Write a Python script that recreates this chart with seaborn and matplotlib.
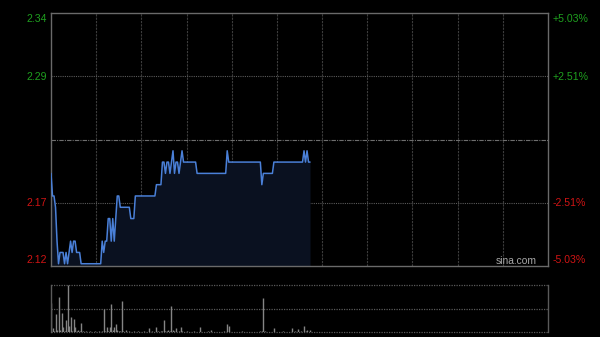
import matplotlib
matplotlib.use('Agg')
import matplotlib.pyplot as plt
import seaborn as sns
import pandas as pd

# ---- data ----
minutes = list(range(173))
prices = [
    2.20, 2.18, 2.18, 2.17, 2.14, 2.12, 2.13, 2.13, 2.13, 2.12,
    2.13, 2.12, 2.13, 2.14, 2.13, 2.14, 2.14, 2.13, 2.13, 2.13,
    2.12, 2.12, 2.12, 2.12, 2.12, 2.12, 2.12, 2.12, 2.12, 2.12,
    2.12, 2.12, 2.12, 2.12, 2.14, 2.13, 2.14, 2.14, 2.16, 2.16,
    2.14, 2.16, 2.14, 2.16, 2.18, 2.18, 2.17, 2.17, 2.17, 2.17,
    2.17, 2.17, 2.17, 2.16, 2.16, 2.16, 2.18, 2.18, 2.18, 2.18,
    2.18, 2.18, 2.18, 2.18, 2.18, 2.18, 2.18, 2.18, 2.18, 2.18,
    2.19, 2.19, 2.19, 2.19, 2.21, 2.21, 2.20, 2.21, 2.21, 2.20,
    2.21, 2.22, 2.20, 2.21, 2.21, 2.20, 2.21, 2.22, 2.21, 2.21,
    2.21, 2.21, 2.21, 2.21, 2.21, 2.21, 2.21, 2.20, 2.20, 2.20,
    2.20, 2.20, 2.20, 2.20, 2.20, 2.20, 2.20, 2.20, 2.20, 2.20,
    2.20, 2.20, 2.20, 2.20, 2.20, 2.20, 2.20, 2.22, 2.21, 2.21,
    2.21, 2.21, 2.21, 2.21, 2.21, 2.21, 2.21, 2.21, 2.21, 2.21,
    2.21, 2.21, 2.21, 2.21, 2.21, 2.21, 2.21, 2.21, 2.21, 2.21,
    2.19, 2.20, 2.20, 2.20, 2.20, 2.20, 2.20, 2.20, 2.21, 2.21,
    2.21, 2.21, 2.21, 2.21, 2.21, 2.21, 2.21, 2.21, 2.21, 2.21,
    2.21, 2.21, 2.21, 2.21, 2.21, 2.21, 2.21, 2.21, 2.22, 2.21,
    2.22, 2.21, 2.21,
]
volumes = [
    61, 9, 3, 38, 4, 75, 4, 40, 11, 3,
    26, 100, 13, 31, 3, 27, 11, 2, 4, 2,
    20, 2, 1, 2, 1, 1, 2, 1, 1, 2,
    1, 1, 2, 1, 3, 50, 3, 10, 3, 10,
    60, 4, 11, 18, 4, 3, 2, 67, 2, 1,
    4, 1, 2, 1, 1, 2, 1, 1, 2, 1,
    1, 1, 2, 1, 1, 8, 1, 2, 1, 1,
    10, 2, 1, 3, 2, 26, 3, 2, 4, 3,
    55, 4, 2, 8, 1, 2, 10, 2, 1, 1,
    2, 1, 1, 1, 1, 2, 1, 1, 1, 10,
    1, 1, 1, 1, 2, 1, 4, 1, 1, 1,
    1, 1, 1, 1, 1, 2, 1, 17, 13, 1,
    1, 1, 1, 1, 1, 1, 1, 2, 1, 1,
    1, 1, 1, 1, 1, 1, 1, 1, 1, 2,
    3, 72, 2, 1, 1, 1, 1, 1, 9, 1,
    1, 1, 1, 1, 2, 1, 1, 1, 1, 1,
    9, 1, 2, 1, 6, 1, 2, 1, 13, 2,
    4, 1, 4,
]
prev_close = 2.23
half_range = 0.112
session_minutes = 330
grid_minutes = [30, 60, 90, 120, 150, 180, 210, 240, 270, 300]
left_labels = ['2.34', '2.29', '2.17', '2.12']
right_labels = ['+5.03%', '+2.51%', '-2.51%', '-5.03%']
label_colors = ['#1fa01f', '#1fa01f', '#d01414', '#d01414']
vol_max = 100

sns.set_theme(style='dark')
plt.rcParams['font.family'] = ['Liberation Sans', 'DejaVu Sans']

W, H = 600, 337
fig = plt.figure(figsize=(6, 3.37), dpi=100, facecolor='black')
ax = fig.add_axes([51 / W, 71 / H, 497 / W, 253 / H])
axv = fig.add_axes([51 / W, 5 / H, 497 / W, 47 / H])
for a in (ax, axv):
    a.set_facecolor('black')
    a.grid(False)

ymin = prev_close - half_range
ymax = prev_close + half_range
df = pd.DataFrame({'minute': minutes, 'price': prices})

ax.fill_between(df['minute'], df['price'], ymin, color='#0a1120', lw=0, zorder=1)
for gm in grid_minutes:
    ax.axvline(gm, color='#3c3c3c', lw=0.8, ls=(0, (2, 1)), zorder=0.5)
for yy in (prev_close + half_range / 2, prev_close - half_range / 2):
    ax.axhline(yy, color='#5a5a5a', lw=0.8, ls=(0, (1, 1)), zorder=0.5)
ax.axhline(prev_close, color='#6e6e6e', lw=0.8, ls=(0, (4, 1, 1, 1)), zorder=0.5)
sns.lineplot(data=df, x='minute', y='price', ax=ax, color='#4a80d8', lw=1.1, zorder=3)

ax.set_xlim(0, session_minutes)
ax.set_ylim(ymin, ymax)
ax.set_xticks([])
ax.set_yticks([])
ax.set_xlabel('')
ax.set_ylabel('')
for s in ax.spines.values():
    s.set_color('#6a6a6a')
    s.set_linewidth(1.0)
    s.set_visible(True)

# price labels
label_pos = [0.976, 0.747, 0.249, 0.024]
for lab, rlab, col, yp in zip(left_labels, right_labels, label_colors, label_pos):
    ax.text(-0.008, yp, lab, transform=ax.transAxes, ha='right', va='center',
            color=col, fontsize=7.6)
    ax.text(1.010, yp, rlab, transform=ax.transAxes, ha='left', va='center',
            color=col, fontsize=7.6)
ax.text(0.978, 0.018, 'sina.com', transform=ax.transAxes, ha='right', va='center',
        color='#a8a8a8', fontsize=7.4)

# volume panel
axv.vlines(minutes, 0, volumes, color='#858585', lw=1.0)
axv.set_xlim(0, session_minutes)
axv.set_ylim(0, vol_max)
axv.set_xticks([])
axv.set_yticks([])
for side in ('top', 'bottom'):
    axv.spines[side].set_visible(False)
for side in ('left', 'right'):
    axv.spines[side].set_color('#5a5a5a')
    axv.spines[side].set_linewidth(1.0)
    axv.spines[side].set_visible(True)
for yy in (0, vol_max / 2, vol_max):
    axv.axhline(yy, color='#5a5a5a', lw=0.9, ls=(0, (1, 1)), clip_on=False, zorder=0.5)

fig.savefig('out.png', dpi=100, facecolor='black')
